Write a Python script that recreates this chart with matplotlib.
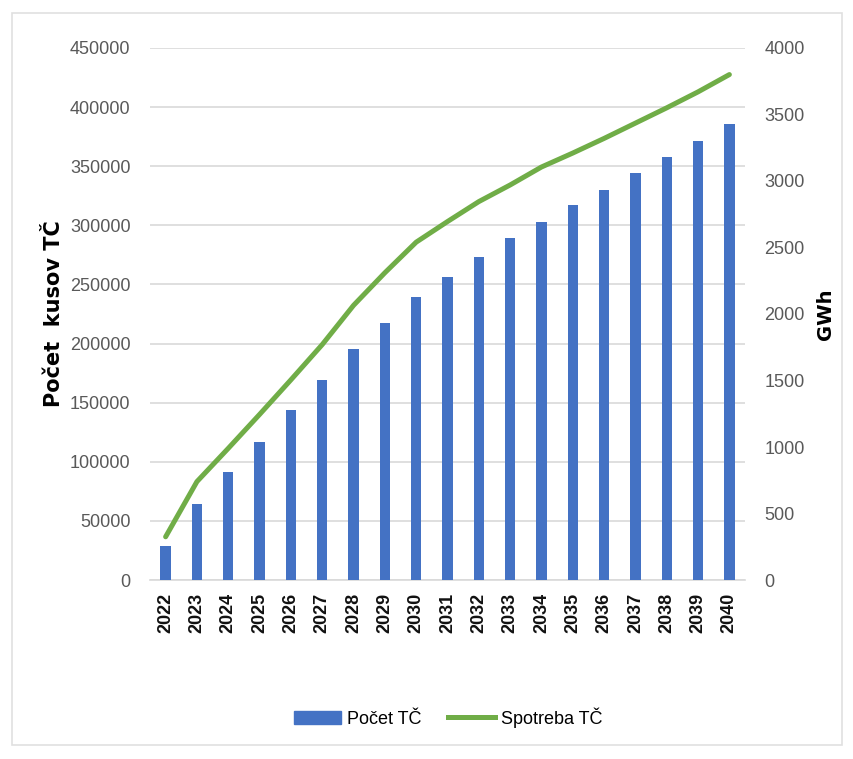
import matplotlib.pyplot as plt
from matplotlib.patches import Rectangle
from matplotlib.lines import Line2D

years = [str(y) for y in range(2022, 2041)]
pocet_tc = [29000, 64000, 91000, 117000, 144000, 169000, 195000, 217000, 239000,
            256000, 273000, 289000, 303000, 317000, 330000, 344000, 358000, 371000, 386000]
spotreba_tc = [325, 740, 990, 1245, 1505, 1770, 2065, 2310, 2540, 2695, 2845,
               2970, 3105, 3210, 3320, 3435, 3550, 3670, 3800]

blue = '#4472C4'
green = '#70AD47'
numfont = ['Liberation Sans', 'DejaVu Sans']

fig = plt.figure(figsize=(8.54, 7.59), dpi=100)
ax1 = fig.add_axes([0.1756, 0.2358, 0.6968, 0.701])
ax2 = ax1.twinx()

x = list(range(len(years)))
ax1.bar(x, pocet_tc, width=0.33, color=blue, zorder=3)
ax2.plot(x, spotreba_tc, color=green, linewidth=3.6, solid_capstyle='round', zorder=4)

ax1.set_xlim(-0.5, len(years) - 0.5)
ax1.set_ylim(0, 450000)
ax2.set_ylim(0, 4000)
ax1.set_yticks(range(0, 450001, 50000))
ax2.set_yticks(range(0, 4001, 500))
ax1.yaxis.grid(True, color='#d9d9d9', linewidth=1.2, zorder=0)
ax1.set_axisbelow(True)

for a in (ax1, ax2):
    for s in a.spines.values():
        s.set_visible(False)
    a.tick_params(length=0)
ax1.spines['bottom'].set_visible(True)
ax1.spines['bottom'].set_color('#d9d9d9')
ax1.spines['bottom'].set_linewidth(1.2)

ax1.set_xticks(x)
ax1.set_xticklabels(years, rotation=90, fontsize=13, color='#111111',
                    fontweight='bold', family=numfont)
for lab in ax1.get_yticklabels():
    lab.set_family(numfont)
for lab in ax2.get_yticklabels():
    lab.set_family(numfont)
ax1.tick_params(axis='y', labelsize=13, labelcolor='#595959', pad=14)
ax2.tick_params(axis='y', labelsize=13, labelcolor='#595959', pad=14)
ax1.tick_params(axis='x', pad=9)

ax1.set_ylabel('Počet  kusov TČ', fontsize=15, fontweight='bold', labelpad=4,
               family='DejaVu Sans')
ax2.set_ylabel('GWh', fontsize=14, fontweight='bold', labelpad=8,
               family='DejaVu Sans')

handles = [Rectangle((0, 0), 1, 1, color=blue),
           Line2D([0], [0], color=green, linewidth=3.6)]
fig.legend(handles, ['Počet TČ', 'Spotreba TČ'], loc='center', ncol=2,
           bbox_to_anchor=(0.525, 0.055), frameon=False,
           prop={'family': numfont, 'size': 13}, handlelength=2.6,
           columnspacing=1.5, handletextpad=0.3)

fig.patches.append(Rectangle((0.014, 0.018), 0.972, 0.965, transform=fig.transFigure,
                             fill=False, edgecolor='#e0e0e0', linewidth=1.2))

fig.savefig('out.png', dpi=100)
